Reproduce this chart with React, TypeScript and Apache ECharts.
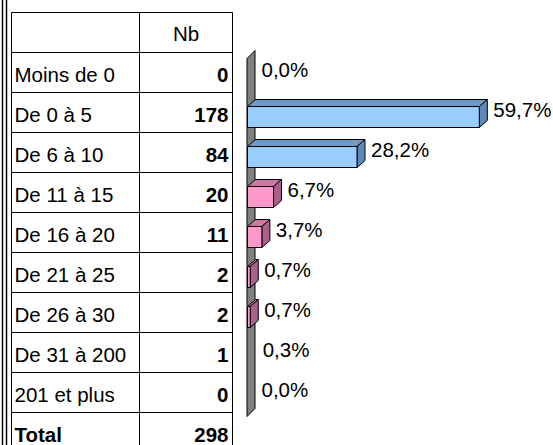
import React, { useEffect, useRef } from "react";
import * as echarts from "echarts";

// ---- data ----
const headerLabel = "Nb";
const categories = [
  "Moins de 0",
  "De 0 à 5",
  "De 6 à 10",
  "De 11 à 15",
  "De 16 à 20",
  "De 21 à 25",
  "De 26 à 30",
  "De 31 à 200",
  "201 et plus",
];
const counts = [0, 178, 84, 20, 11, 2, 2, 1, 0];
const percents = [0.0, 59.7, 28.2, 6.7, 3.7, 0.7, 0.7, 0.3, 0.0];
const totalLabel = "Total";
const totalCount = 298;

// ---- styles ----
type Palette = { front: string; top: string; side: string } | null;
const BLUE: Palette = { front: "#99CCFF", top: "#7099C6", side: "#6187B4" };
const PINK: Palette = { front: "#FF99CC", top: "#CC77A6", side: "#A8618A" };
const barPalettes: Palette[] = [null, BLUE, BLUE, PINK, PINK, PINK, PINK, null, null];

const FONT = "'Liberation Sans', Arial, Helvetica, sans-serif";
const FS_TABLE = 20.5;
const FS_LABEL = 20.5;

// layout
const W = 553;
const H = 445;
const ROW_H = 40;
const TABLE_TOP = 12.5;
const HEADER_H = 40;
const TABLE_LEFT = 11.5;
const COL_DIV = 139.5;
const TABLE_RIGHT = 232.5;
const GRID_LEFT = 247.5;
const GRID_TOP = 52.5;
const X_MAX = 70;
const PX_PER_UNIT = 3.883;
const DX = 8;
const DY = 7;

function fmtPct(v: number) {
  return v.toFixed(1).replace(".", ",") + "%";
}

export default function App() {
  const ref = useRef<HTMLDivElement>(null);
  useEffect(() => {
    document.body.style.margin = "0";
    const chart = echarts.init(ref.current!, undefined, { renderer: "svg" });
    const nRows = categories.length;
    const gridH = nRows * ROW_H;

    const graphic: any[] = [];
    // double left border
    [2.5, 6.5].forEach((x) =>
      graphic.push({
        type: "line",
        shape: { x1: x, y1: 0, x2: x, y2: H },
        style: { stroke: "#000", lineWidth: 1.5 },
        z: 1,
      })
    );
    // table horizontal lines
    const totalRows = nRows + 2;
    for (let r = 0; r <= totalRows; r++) {
      const y = TABLE_TOP + r * ROW_H;
      graphic.push({
        type: "line",
        shape: { x1: TABLE_LEFT, y1: y, x2: TABLE_RIGHT, y2: y },
        style: { stroke: "#000", lineWidth: 1 },
        z: 1,
      });
    }
    // table vertical lines
    [TABLE_LEFT, COL_DIV, TABLE_RIGHT].forEach((x) =>
      graphic.push({
        type: "line",
        shape: { x1: x, y1: TABLE_TOP, x2: x, y2: H + 10 },
        style: { stroke: "#000", lineWidth: 1 },
        z: 1,
      })
    );
    // header text
    graphic.push({
      type: "text",
      x: (COL_DIV + TABLE_RIGHT) / 2,
      y: TABLE_TOP + HEADER_H / 2 + 1,
      style: {
        text: headerLabel,
        font: `${FS_TABLE}px ${FONT}`,
        fill: "#000",
        align: "center",
        verticalAlign: "middle",
      },
      z: 2,
    });
    const rowLabels = [...categories, totalLabel];
    const rowCounts = [...counts, totalCount];
    rowLabels.forEach((lab, i) => {
      const cy = TABLE_TOP + HEADER_H + i * ROW_H + ROW_H / 2 + 1.5;
      const isTotal = i === rowLabels.length - 1;
      graphic.push({
        type: "text",
        x: TABLE_LEFT + 3,
        y: cy,
        style: {
          text: lab,
          font: `${isTotal ? "bold " : ""}${FS_TABLE}px ${FONT}`,
          fill: "#000",
          align: "left",
          verticalAlign: "middle",
        },
        z: 2,
      });
      graphic.push({
        type: "text",
        x: TABLE_RIGHT - 4,
        y: cy,
        style: {
          text: String(rowCounts[i]),
          font: `bold ${FS_TABLE}px ${FONT}`,
          fill: "#000",
          align: "right",
          verticalAlign: "middle",
        },
        z: 2,
      });
    });
    // back wall
    const wx = GRID_LEFT - 0.5;
    graphic.push({
      type: "polygon",
      shape: {
        points: [
          [wx, GRID_TOP + 6],
          [wx + DX, GRID_TOP - 2],
          [wx + DX, GRID_TOP + gridH - 4],
          [wx, GRID_TOP + gridH + 4],
        ],
      },
      style: { fill: "#808080", stroke: "#000", lineWidth: 1 },
      z: 1,
    });

    const renderItem = (params: any, api: any) => {
      const v = api.value(0);
      const idx = api.value(1);
      const p0 = api.coord([0, idx]);
      const p1 = api.coord([v, idx]);
      const cy = p0[1];
      const x0 = p0[0];
      const x1 = p1[0];
      const top = cy - 6;
      const bot = cy + 15;
      const pal = barPalettes[idx];
      const children: any[] = [];
      if (pal && v > 0) {
        const st = { stroke: "#000", lineWidth: 1, lineJoin: "round" };
        children.push({
          type: "polygon",
          shape: { points: [[x0, top], [x1, top], [x1 + DX, top - DY], [x0 + DX, top - DY]] },
          style: { ...st, fill: pal.top },
        });
        children.push({
          type: "polygon",
          shape: { points: [[x1, top], [x1 + DX, top - DY], [x1 + DX, bot - DY], [x1, bot]] },
          style: { ...st, fill: pal.side },
        });
        children.push({
          type: "rect",
          shape: { x: x0, y: top, width: x1 - x0, height: bot - top },
          style: { ...st, fill: pal.front },
        });
      }
      children.push({
        type: "text",
        x: x1 + DX + 6,
        y: cy - 3,
        style: {
          text: fmtPct(v),
          font: `${FS_LABEL}px ${FONT}`,
          fill: "#000",
          align: "left",
          verticalAlign: "middle",
        },
      });
      return { type: "group", children };
    };

    chart.setOption({
      animation: false,
      backgroundColor: "#fff",
      grid: { left: GRID_LEFT, top: GRID_TOP, width: X_MAX * PX_PER_UNIT, height: gridH },
      xAxis: { type: "value", min: 0, max: X_MAX, show: false },
      yAxis: { type: "category", data: categories, inverse: true, show: false },
      series: [
        {
          type: "custom",
          renderItem,
          data: percents.map((p, i) => [p, i]),
          z: 5,
          clip: false,
        },
      ],
      graphic,
    });
    return () => chart.dispose();
  }, []);
  return <div ref={ref} style={{ width: W, height: H }} />;
}
